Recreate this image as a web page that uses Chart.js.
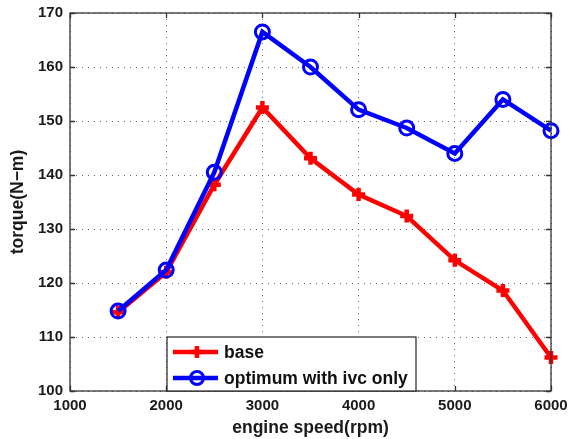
<!DOCTYPE html>
<html>
<head>
<meta charset="utf-8">
<script src="https://cdn.jsdelivr.net/npm/chart.js@4"></script>
<style>
html,body{margin:0;padding:0;background:#fff;}
#wrap{width:570px;height:439px;position:relative;}
</style>
</head>
<body>
<div id="wrap"><canvas id="c" width="570" height="439"></canvas></div>
<script>
const speeds = [1500, 2000, 2500, 3000, 3500, 4000, 4500, 5000, 5500, 6000];
const baseTorque = [114.6, 122.0, 138.2, 152.5, 143.1, 136.4, 132.4, 124.2, 118.6, 106.2];
const optimumTorque = [114.8, 122.4, 140.5, 166.5, 160.0, 152.1, 148.7, 144.0, 154.0, 148.2];
const xTicks = [1000, 2000, 3000, 4000, 5000, 6000];
const yTicks = [100, 110, 120, 130, 140, 150, 160, 170];
const seriesNames = ['base', 'optimum with ivc only'];
const xTitle = 'engine speed(rpm)';
const yTitle = 'torque(N\u2212m)';

const FONT = '"Liberation Sans", Arial, sans-serif';
const RED = '#ff0000', BLUE = '#0000ff';

const frameTicks = {
  id: 'frameTicks',
  afterDatasetsDraw(chart) {
    const {ctx, chartArea: a, scales: {x, y}} = chart;
    ctx.save();
    ctx.strokeStyle = '#333';
    ctx.lineWidth = 1.3;
    ctx.setLineDash([]);
    ctx.strokeRect(a.left, a.top, a.right - a.left, a.bottom - a.top);
    const L = 5;
    ctx.beginPath();
    xTicks.forEach(v => {
      const px = Math.round(x.getPixelForValue(v)) + 0.5;
      ctx.moveTo(px, a.bottom); ctx.lineTo(px, a.bottom - L);
      ctx.moveTo(px, a.top); ctx.lineTo(px, a.top + L);
    });
    yTicks.forEach(v => {
      const py = Math.round(y.getPixelForValue(v)) + 0.5;
      ctx.moveTo(a.left, py); ctx.lineTo(a.left + L, py);
      ctx.moveTo(a.right, py); ctx.lineTo(a.right - L, py);
    });
    ctx.stroke();

    // legend
    const bx = a.left + 97, by = a.bottom - 54, bw = 249, bh = 54;
    ctx.fillStyle = '#fff';
    ctx.fillRect(bx, by, bw, bh);
    ctx.strokeStyle = '#222';
    ctx.lineWidth = 1.2;
    ctx.strokeRect(bx, by, bw, bh);
    const rows = [
      {name: seriesNames[0], color: RED, style: 'cross', yy: by + 15},
      {name: seriesNames[1], color: BLUE, style: 'circle', yy: by + 41}
    ];
    rows.forEach(r => {
      ctx.strokeStyle = r.color;
      ctx.lineWidth = 4.5;
      ctx.beginPath();
      ctx.moveTo(bx + 6, r.yy); ctx.lineTo(bx + 51, r.yy);
      ctx.stroke();
      const mx = bx + 30;
      if (r.style === 'cross') {
        ctx.lineWidth = 4.5;
        ctx.beginPath();
        ctx.moveTo(mx - 6, r.yy); ctx.lineTo(mx + 6, r.yy);
        ctx.moveTo(mx, r.yy - 6); ctx.lineTo(mx, r.yy + 6);
        ctx.stroke();
      } else {
        ctx.lineWidth = 3;
        ctx.beginPath();
        ctx.arc(mx, r.yy, 6.5, 0, Math.PI * 2);
        ctx.stroke();
      }
      ctx.fillStyle = '#111';
      ctx.font = 'bold 17.5px ' + FONT;
      ctx.textBaseline = 'middle';
      ctx.textAlign = 'left';
      ctx.fillText(r.name, bx + 57, r.yy + 1);
    });
    ctx.restore();
  }
};

new Chart(document.getElementById('c'), {
  type: 'line',
  data: {
    datasets: [
      {
        label: seriesNames[0],
        data: speeds.map((s, i) => ({x: s, y: baseTorque[i]})),
        borderColor: RED, backgroundColor: RED,
        borderWidth: 4.5,
        pointStyle: 'cross', pointRadius: 6.5, pointBorderWidth: 4.5,
        pointBorderColor: RED,
        order: 2, tension: 0, clip: false
      },
      {
        label: seriesNames[1],
        data: speeds.map((s, i) => ({x: s, y: optimumTorque[i]})),
        borderColor: BLUE, backgroundColor: 'rgba(0,0,0,0)',
        borderWidth: 4.5,
        pointStyle: 'circle', pointRadius: 7, pointBorderWidth: 3,
        pointBorderColor: BLUE, pointBackgroundColor: 'rgba(0,0,0,0)',
        order: 1, tension: 0, clip: false
      }
    ]
  },
  options: {
    responsive: false,
    animation: false,
    layout: {padding: {left: 0, right: 19, top: 13, bottom: 0}},
    plugins: {legend: {display: false}, tooltip: {enabled: false}},
    scales: {
      x: {
        type: 'linear', min: 1000, max: 6000,
        afterBuildTicks: s => { s.ticks = xTicks.map(v => ({value: v})); },
        afterFit: s => { s.height = 48; s.paddingRight = 0; s.paddingLeft = 0; },
        grid: {color: '#666', lineWidth: 1, drawTicks: false},
        border: {display: false, dash: [1, 5]},
        ticks: {color: '#1a1a1a', font: {family: FONT, size: 15, weight: 'bold'}, padding: 6, maxRotation: 0,
                callback: v => String(v)},
        title: {display: true, text: xTitle, color: '#1a1a1a', font: {family: FONT, size: 17.5, weight: 'bold'}, padding: {top: 0, bottom: 0}}
      },
      y: {
        type: 'linear', min: 100, max: 170,
        afterBuildTicks: s => { s.ticks = yTicks.map(v => ({value: v})); },
        afterFit: s => { s.width = 70; s.paddingTop = 0; s.paddingBottom = 0; },
        grid: {color: '#666', lineWidth: 1, drawTicks: false},
        border: {display: false, dash: [1, 5]},
        ticks: {color: '#1a1a1a', font: {family: FONT, size: 15, weight: 'bold'}, padding: 7,
                callback: v => String(v)},
        title: {display: true, text: yTitle, color: '#1a1a1a', font: {family: FONT, size: 17.5, weight: 'bold'}, padding: {top: 8, bottom: 0}}
      }
    }
  },
  plugins: [frameTicks]
});
</script>
</body>
</html>
